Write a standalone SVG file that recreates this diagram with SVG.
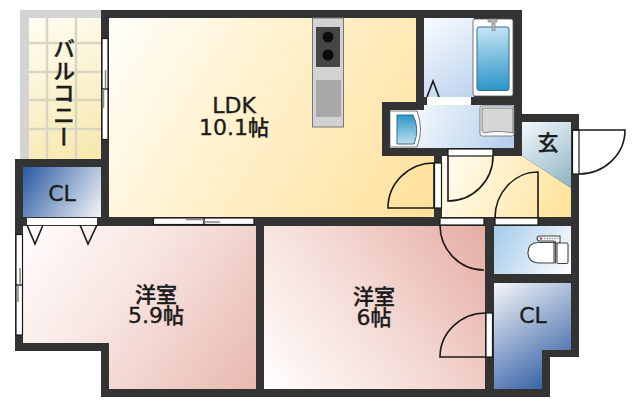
<svg xmlns="http://www.w3.org/2000/svg" width="640" height="408" viewBox="0 0 640 408">
<style>
.t{font-family:"Noto Sans CJK JP","Noto Sans",sans-serif;font-weight:500;fill:#1c1c1c;stroke:#1c1c1c;stroke-width:.35;text-anchor:middle}
.l{font-family:"DejaVu Sans",sans-serif;font-weight:400;font-size:22px}
.k{font-size:21px}
.d{fill:none;stroke:#1a1a1a;stroke-width:1.6}
.w{fill:#fff;stroke:#1a1a1a;stroke-width:1.2}
.win{fill:#fff;stroke:#1a1a1a;stroke-width:1.2}
.tile{stroke:#d9d5c2;stroke-width:2.5;fill:none}
</style>
<defs>
<linearGradient id="gLdk" gradientUnits="userSpaceOnUse" x1="110" y1="20" x2="430" y2="210"><stop offset="0" stop-color="#fffefa"/><stop offset=".4" stop-color="#fff2d0"/><stop offset="1" stop-color="#ffe19c"/></linearGradient>
<linearGradient id="gHall" gradientUnits="userSpaceOnUse" x1="445" y1="160" x2="570" y2="215"><stop offset="0" stop-color="#fffcf0"/><stop offset="1" stop-color="#ffe298"/></linearGradient>
<linearGradient id="gBal" gradientUnits="userSpaceOnUse" x1="30" y1="20" x2="100" y2="160"><stop offset="0" stop-color="#fffdf2"/><stop offset="1" stop-color="#f6e7ac"/></linearGradient>
<linearGradient id="gBath" gradientUnits="userSpaceOnUse" x1="424" y1="20" x2="475" y2="98"><stop offset="0" stop-color="#f8fbfe"/><stop offset="1" stop-color="#bcd2ee"/></linearGradient>
<linearGradient id="gWash" gradientUnits="userSpaceOnUse" x1="420" y1="108" x2="514" y2="148"><stop offset="0" stop-color="#f0f6fc"/><stop offset="1" stop-color="#b2cdeb"/></linearGradient>
<linearGradient id="gR1" gradientUnits="userSpaceOnUse" x1="25" y1="228" x2="256" y2="388"><stop offset="0" stop-color="#fffdfc"/><stop offset=".4" stop-color="#f8e6e3"/><stop offset="1" stop-color="#e8b9b0"/></linearGradient>
<linearGradient id="gR2" gradientUnits="userSpaceOnUse" x1="268" y1="385" x2="485" y2="228"><stop offset="0" stop-color="#fffdfc"/><stop offset=".5" stop-color="#f4d9d4"/><stop offset="1" stop-color="#e5ada4"/></linearGradient>
<linearGradient id="gCl1" gradientUnits="userSpaceOnUse" x1="25" y1="168" x2="100" y2="217"><stop offset="0" stop-color="#2e5ca3"/><stop offset="1" stop-color="#f2f4f8"/></linearGradient>
<linearGradient id="gCl2" gradientUnits="userSpaceOnUse" x1="496" y1="285" x2="560" y2="385"><stop offset="0" stop-color="#f2f3f7"/><stop offset="1" stop-color="#2e5ca3"/></linearGradient>
<linearGradient id="gToi" gradientUnits="userSpaceOnUse" x1="496" y1="228" x2="570" y2="273"><stop offset="0" stop-color="#a6cbeb"/><stop offset="1" stop-color="#ffffff"/></linearGradient>
<linearGradient id="gGen" gradientUnits="userSpaceOnUse" x1="525" y1="125" x2="571" y2="188"><stop offset="0" stop-color="#eef5f8"/><stop offset="1" stop-color="#8db3c3"/></linearGradient>
<linearGradient id="gTub" gradientUnits="userSpaceOnUse" x1="490" y1="27" x2="495" y2="90"><stop offset="0" stop-color="#c6e3f4"/><stop offset="1" stop-color="#2b95c8"/></linearGradient>
<linearGradient id="gSink" gradientUnits="userSpaceOnUse" x1="405" y1="115" x2="405" y2="144"><stop offset="0" stop-color="#2b95c8"/><stop offset="1" stop-color="#bfe0f2"/></linearGradient>
</defs>

<g id="balcony">
<rect x="20" y="10" width="81" height="149" fill="#d4d4d4"/>
<rect x="29" y="18" width="72" height="141" fill="url(#gBal)"/>
<path class="tile" d="M47 18V159M76 18V159M29 43H101M29 72H101M29 100H101M29 129H101"/>
<text class="t" x="64" y="38" font-size="22" style="writing-mode:vertical-rl;text-anchor:start">バルコニー</text>
</g>

<g id="walls">
<path fill="#333" d="M101 10H522V114H579V357H550V397H101V351H15V159H101Z"/>
</g>

<g id="ldk">
<path fill="url(#gLdk)" d="M109 18H416V102H382V156H434V217H109Z"/>
<g id="kitchen">
<rect x="312.500" y="18" width="31" height="109" fill="#d2d2d2" stroke="#777" stroke-width="1"/>
<rect x="316" y="27" width="24" height="40" fill="#454545"/>
<circle cx="328" cy="37" r="5.500" fill="#0c0c0c"/>
<circle cx="328" cy="55" r="5.500" fill="#0c0c0c"/>
<rect x="316" y="80" width="25" height="37" fill="#a9a9a9"/>
</g>
<text class="t l" x="234" y="113">LDK</text>
<text class="t" x="234" y="135"><tspan class="l">10.1</tspan><tspan class="k">帖</tspan></text>
</g>

<g id="bath">
<rect x="424" y="18" width="50" height="79" fill="url(#gBath)"/>
<rect x="473" y="19" width="40" height="77" rx="2" fill="#fff" stroke="#555" stroke-width=".8"/>
<rect x="477" y="27" width="32" height="63.500" rx="2" fill="url(#gTub)" stroke="#2f6f8c" stroke-width="1"/>
<path fill="#b5b5b5" stroke="#777" stroke-width=".6" d="M488 19H497V22H495V30.500H492V22H488Z"/>
<path class="d" d="M427 97L433 81L439 97"/>
<rect x="427" y="97" width="44" height="8" fill="#fff"/>
</g>

<g id="washroom">
<path fill="url(#gWash)" d="M390 110H424V105H514V148H390Z"/>
<path fill="#fff" stroke="#555" stroke-width=".8" d="M390 111H417Q424 129 417 147H390Z"/>
<path fill="url(#gSink)" stroke="#2f6f8c" stroke-width="1" d="M397 115H413Q420 129 414 144H397Z"/>
<rect x="480" y="106" width="34" height="30" rx="2" fill="#fff" stroke="#666" stroke-width=".8"/>
<path fill="#d4d6d6" stroke="#555" stroke-width=".7" d="M482 108H513V133Q497 130 484 133L482 131Z"/>
</g>

<g id="hall">
<path fill="url(#gHall)" d="M442 156H522L571 188V217H442Z"/>
<path fill="url(#gGen)" d="M522 122H571V188L522 156Z"/>
<text class="t k" x="548" y="150">玄</text>
</g>

<g id="closet1">
<rect x="23" y="167" width="78" height="50" fill="url(#gCl1)"/>
<text class="t l" x="62" y="201">CL</text>
</g>

<g id="room1">
<path fill="url(#gR1)" d="M23 226H256V389H109V343H23Z"/>
<text class="t k" x="156" y="302">洋室</text>
<text class="t" x="156" y="323"><tspan class="l">5.9</tspan><tspan class="k">帖</tspan></text>
</g>

<g id="room2">
<rect x="264" y="226" width="221" height="163" fill="url(#gR2)"/>
<text class="t k" x="374" y="304">洋室</text>
<text class="t" x="374" y="325"><tspan class="l">6</tspan><tspan class="k">帖</tspan></text>
</g>

<g id="toilet">
<rect x="494" y="226" width="77" height="48" fill="url(#gToi)"/>
<path fill="#fff" stroke="#444" stroke-width="1.100" d="M540 236H560V243H554V241H540Q537 241 537 238.500Q537 236 540 236Z"/>
<path stroke="#999" stroke-width="1.500" stroke-dasharray="1.500 1" d="M544 238.500H558" fill="none"/>
<circle cx="541" cy="238.500" r="1.200" fill="#d03050"/>
<path fill="#fff" stroke="#444" stroke-width="1.100" d="M554 242.500H538Q528 243 528 252.500Q528 262 538 263H554Z"/>
<rect x="557" y="243" width="11" height="20.500" rx="1.500" fill="#fff" stroke="#444" stroke-width="1.100"/>
<path d="M555.500 241V263.500" stroke="#444" stroke-width="1.100"/>
</g>

<g id="closet2">
<path fill="url(#gCl2)" d="M494 283H571V350H542V389H494Z"/>
<text class="t l" x="533" y="323">CL</text>
</g>

<g id="windows">
<rect class="win" x="102" y="38.500" width="6" height="101"/>
<path d="M101 89H109" stroke="#1a1a1a" stroke-width="1.500"/>
<path d="M105.500 70V89M103.500 89V108" stroke="#888" stroke-width="1.500"/>
<rect class="win" x="16" y="234.500" width="6.500" height="100.500"/>
<path d="M15 285H23" stroke="#1a1a1a" stroke-width="1.500"/>
<path d="M20 268V285M18 285V302" stroke="#888" stroke-width="1.500"/>
<rect class="win" x="153.500" y="218" width="100.500" height="6.500"/>
<path d="M204 217V225" stroke="#1a1a1a" stroke-width="1.500"/>
<path d="M186 219.500H204M204 222H220" stroke="#888" stroke-width="1.500"/>
</g>

<g id="connectors">
<rect x="27" y="218" width="70" height="7" fill="#fff"/>
<path class="d" d="M27 225L35 244L43 225M80 225L88 244L97 225"/>
<g id="door-entrance">
<rect class="w" x="572.500" y="130" width="6.500" height="44"/>
<path class="d" d="M573 130H625A46 44 0 0 1 579 174"/>
</g>
<g id="door-ldk">
<rect class="w" x="434.500" y="163" width="7" height="45"/>
<path class="d" d="M434 163A46 45 0 0 0 388 208H434Z"/>
</g>
<g id="door-wash">
<rect class="w" x="448" y="149" width="45" height="7"/>
<path class="d" d="M448 156V201A45 45 0 0 0 493 156"/>
</g>
<g id="door-toilet">
<rect class="w" x="495" y="218" width="43" height="7"/>
<path class="d" d="M495 218A43 46 0 0 1 538 172V218"/>
</g>
<g id="door-room2">
<rect class="w" x="440" y="218" width="44" height="7"/>
<path class="d" d="M440 225A44 45 0 0 0 484 270"/>
</g>
<g id="door-closet2">
<rect class="w" x="486" y="313" width="6.500" height="44"/>
<path class="d" d="M486 313A46 44 0 0 0 440 357H486"/>
</g>
</g>
</svg>
